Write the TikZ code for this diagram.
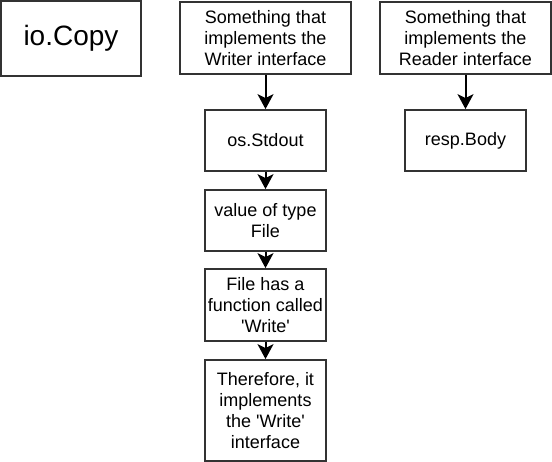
\documentclass[tikz,border=0pt]{standalone}
\usepackage{fontspec}
\newfontfamily\lib{Liberation Sans}
\usetikzlibrary{arrows.meta}
\begin{document}
\begin{tikzpicture}[x=1pt,y=-1pt,
  box/.style={draw=black!80, line width=1.8pt, fill=white, rectangle, inner sep=0pt,
    align=center, font=\lib\fontsize{18}{21}\selectfont},
  arr/.style={draw=black, line width=2pt, -{Stealth[length=15pt,width=16pt,inset=4pt]}}]
\useasboundingbox (0,0) rectangle (552,462);
\node[box, minimum width=140pt, minimum height=75pt, font=\lib\fontsize{28}{32}\selectfont] (copy) at (71,38.5) {io.Copy};
\node[box, minimum width=171pt, minimum height=72pt] (writer) at (265.5,38) {Something that\\implements the\\Writer interface};
\node[box, minimum width=171pt, minimum height=72pt] (reader) at (465.5,38) {Something that\\implements the\\Reader interface};
\node[box, minimum width=121pt, minimum height=61pt] (stdout) at (265.5,140.5) {os.Stdout};
\node[box, minimum width=121pt, minimum height=61pt] (body) at (465.5,140.5) {resp.Body};
\node[box, minimum width=121pt, minimum height=61pt] (value) at (265.5,220.5) {value of type\\File};
\node[box, minimum width=121pt, minimum height=72pt] (func) at (265.5,305) {File has a\\function called\\'Write'};
\node[box, minimum width=121pt, minimum height=101pt] (there) at (265.5,410.5) {Therefore, it\\implements\\the 'Write'\\interface};
\draw[arr] (writer) -- (stdout);
\draw[arr] (reader) -- (body);
\draw[arr] (stdout) -- (value);
\draw[arr] (value) -- (func);
\draw[arr] (func) -- (there);
\end{tikzpicture}
\end{document}
